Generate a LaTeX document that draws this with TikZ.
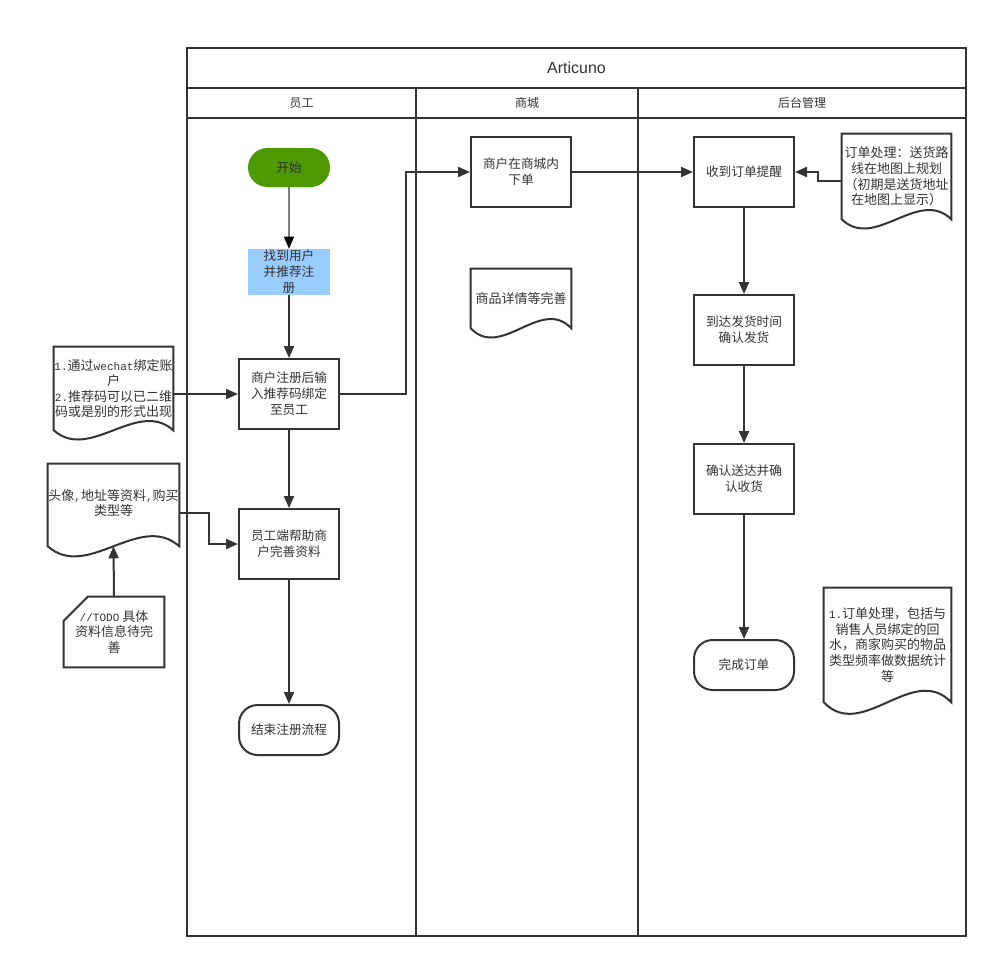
\documentclass[tikz,border=0pt]{standalone}
\usepackage{fontspec}
\setmainfont{Liberation Sans}
\newfontfamily\cjk{Noto Sans CJK SC}
\newfontfamily\monof[Scale=0.85]{Liberation Mono}
\usetikzlibrary{arrows.meta,calc}
\definecolor{ink}{HTML}{333333}
\definecolor{startgreen}{HTML}{4D9900}
\definecolor{findblue}{HTML}{99CCFF}

% document shape: straight top and sides, wavy bottom edge
\newcommand\docwave[2]{%
  \draw[line] (#1.north west) -- (#1.north east) -- (#1.south east)
    .. controls ($(#1.south east)!0.3!(#1.south west)+(0,-#2)$)
       and ($(#1.south east)!0.7!(#1.south west)+(0,#2)$) .. (#1.south west)
    -- cycle;}

\tikzset{
  line/.style={draw=ink, line width=1.5pt},
  flow/.style={line, -{Triangle[length=9pt,width=7.5pt]}},
  boxtext/.style={font=\cjk\fontsize{9.5}{12}\selectfont, text=ink, align=center, inner sep=0pt},
  stepbox/.style={boxtext, line, minimum width=75pt, minimum height=52.5pt},
  termbox/.style={boxtext, line, minimum width=75pt, minimum height=37.5pt, rounded corners=14pt},
  doctext/.style={font=\cjk\fontsize{9.75}{11.7}\selectfont, text=ink, align=center, inner sep=0pt},
  header/.style={font=\cjk\fontsize{9}{11}\selectfont, text=ink},
}

\begin{document}
\begin{tikzpicture}[x=0.75pt, y=-0.75pt]
\useasboundingbox (0,0) rectangle (998,968);

% pool with title row and three lanes
\draw[line] (187,48) rectangle (966,936);
\draw[line] (187,88) -- (966,88);
\draw[line] (187,118) -- (966,118);
\draw[line] (416,88) -- (416,936);
\draw[line] (638,88) -- (638,936);
\node[font=\fontsize{12}{14}\selectfont, text=ink] (title) at (576.5,68) {Articuno};
\node[header] (laneA) at (301.5,103) {员工};
\node[header] (laneB) at (527,103) {商城};
\node[header] (laneC) at (802,103) {后台管理};

% staff lane
\node[boxtext, fill=startgreen, minimum width=61.5pt, minimum height=29.25pt, rounded corners=14.6pt] (start) at (289,167.5) {开始};
\node[boxtext, fill=findblue, minimum width=61.5pt, minimum height=34.5pt] (find) at (289,272) {找到用户\\并推荐注\\册};
\node[stepbox] (reg) at (289,394) {商户注册后输\\入推荐码绑定\\至员工};
\node[stepbox] (help) at (289,544) {员工端帮助商\\户完善资料};
\node[termbox] (finish) at (289,730) {结束注册流程};

% notes on the left
\node[doctext, minimum width=89.25pt, minimum height=62.25pt] (note1) at (113.5,388.5)
  {{\monof 1.}通过{\monof wechat}绑定账\\户\\{\monof 2.}推荐码可以已二维\\码或是别的形式出现};
\docwave{note1}{32}
\node[doctext, minimum width=98.25pt, minimum height=61.5pt] (note2) at (113.5,505)
  {\raisebox{4.5pt}{\begin{tabular}{@{}c@{}}头像{\monof ,}地址等资料{\monof ,}购买\\类型等\end{tabular}}};
\docwave{note2}{35}
\node[doctext, minimum width=75pt, minimum height=52.5pt] (todo) at (114,632)
  {{\monof //TODO} 具体\\资料信息待完\\善};
\draw[line] ($(todo.north west)+(24,0)$) -- (todo.north east) -- (todo.south east)
  -- (todo.south west) -- ($(todo.north west)+(0,24)$) -- cycle;

% mall lane
\node[stepbox] (order) at (521,172) {商户在商城内\\下单};
\node[doctext, minimum width=75pt, minimum height=44.25pt] (detail) at (521,298.5) {商品详情等完善};
\docwave{detail}{32}

% back-office lane
\node[stepbox] (recv) at (744,172) {收到订单提醒};
\node[stepbox] (ship) at (744,330) {到达发货时间\\确认发货};
\node[stepbox] (deliv) at (744,479) {确认送达并确\\认收货};
\node[termbox] (done) at (744,665) {完成订单};
\node[doctext, minimum width=81.75pt, minimum height=63.75pt] (route) at (896.5,176.5)
  {订单处理：送货路\\线在地图上规划\\（初期是送货地址\\在地图上显示）};
\docwave{route}{32}
\node[doctext, minimum width=95.25pt, minimum height=85.5pt] (stats) at (887.5,645)
  {{\monof 1.}订单处理，包括与\\销售人员绑定的回\\水，商家购买的物品\\类型频率做数据统计\\等};
\docwave{stats}{40}

% connectors
\draw[draw=gray, line width=1pt, -{Triangle[length=9pt,width=7.5pt,color=black]}] (start) -- (find);
\draw[flow] (find) -- (reg);
\draw[flow] (reg) -- (help);
\draw[flow] (help) -- (finish);
\draw[flow] (note1.east |- reg.west) -- (reg.west);
\draw[flow] ($(note2.east)+(0,8)$) -- ++(30,0) |- (help.west);
\draw[flow] (todo.north) -- (note2.south);
\draw[flow] (reg.east) -- ++(66,0) |- (order.west);
\draw[flow] (order.east) -- (recv.west);
\draw[flow] ($(route.west)+(0,4.5)$) -- ++(-24,0) |- (recv.east);
\draw[flow] (recv) -- (ship);
\draw[flow] (ship) -- (deliv);
\draw[flow] (deliv) -- (done);
\end{tikzpicture}
\end{document}
